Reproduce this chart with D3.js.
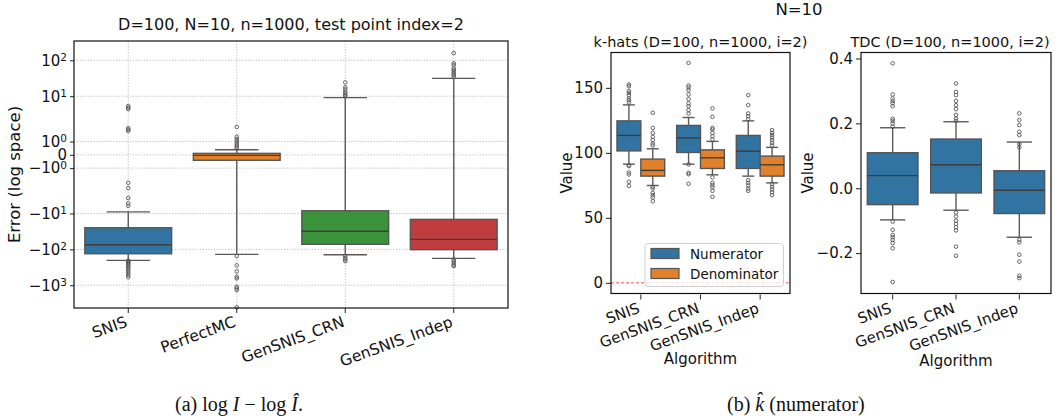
<!DOCTYPE html>
<html>
<head>
<meta charset="utf-8">
<script src="https://cdn.jsdelivr.net/npm/d3@7"></script>
<style>
  body { margin: 0; background: #fff; }
  svg { display: block; font-family: "DejaVu Sans", sans-serif; }
</style>
</head>
<body>
<script>
// Left panel: log-space error per algorithm, [whiskerLo, q1, median, q3, whiskerHi]
const errCats = ["SNIS", "PerfectMC", "GenSNIS_CRN", "GenSNIS_Indep"];
const errBoxes = [
  [-202, -132.5, -74.5, -25, -9],
  [-138, -0.41, -0.04, 0.11, 0.38],
  [-141, -72.3, -31.4, -8.4, 9.1],
  [-178, -102, -52.5, -14.6, 31.4]
];
const errOutliers = [
  [5.3, 4.8, 4.4, 2.0, 1.9, 1.8, -2.1, -2.5, -3.7, -5.2, -6.1, -205, -215, -226, -245, -262, -290, -320, -350, -400, -450, -520, -590],
  [2.1, 1.36, 1.19, 1.04, 0.87, 0.74, 0.61, 0.49, -154, -279, -410, -581, -644, -1100, -1220, -1360, -4130],
  [24.3, 17.7, 15.5, 13.3, 12, 10.8, 9.9, -154, -174, -192, -212],
  [159, 82.5, 74, 60, 53.5, 48, 43, 39, 35, -190, -212, -241, -274, -292]
];
const errTicks = [100, 10, 1, 0, -1, -10, -100, -1000];
const errTickBase = ["10", "10", "10", "0", "\u221210", "\u221210", "\u221210", "\u221210"];
const errTickExp = ["2", "1", "0", "", "0", "1", "2", "3"];
const errColors = ["#3274a1", "#e1812c", "#3a923a", "#c03d3e"];

// Middle panel: k-hats
const algos = ["SNIS", "GenSNIS_CRN", "GenSNIS_Indep"];
const kSeries = ["Numerator", "Denominator"];
const kColors = ["#3274a1", "#e1812c"];
const numBoxes = [
  [91.3, 101.5, 113.4, 124.6, 136.9],
  [91.3, 100.3, 111.5, 121.1, 127.2],
  [82.1, 88, 101.3, 113.4, 124.6]
];
const denBoxes = [
  [74.9, 82.1, 86.5, 95.2, 103.1],
  [83.1, 88, 96.2, 102.3, 108.8],
  [76.9, 82.1, 90.8, 97.5, 104.2]
];
const numOutliers = [
  [152.6, 151.3, 147.7, 146.2, 144.4, 141.8, 140.5, 138.8, 90.5, 89.8, 84.9, 83.4, 77.7, 74.6],
  [169.2, 151.8, 150.3, 148.2, 144.9, 141.3, 138, 135.9, 132.8, 130.3, 91.1, 84.6, 83.6, 76.2],
  [144.4, 136.7, 130.3, 128.2, 125.9, 79, 76.9, 74.9, 72.6, 70.8]
];
const denOutliers = [
  [130.8, 119.2, 115.4, 112.3, 109.8, 107.2, 105.7, 73.8, 72.6, 69.2, 67.5, 65.7, 62.8],
  [134.2, 127.7, 119.2, 118, 115.4, 112.8, 110.3, 81.1, 76.9, 75.2, 73.4, 70.8, 66.2],
  [117.5, 115.4, 113.6, 111.8, 109.8, 107.7, 105.7, 75.9, 73.8, 71.8, 69.8, 67.5]
];
const kTicks = [0, 50, 100, 150];

// Right panel: TDC
const tdcBoxes = [
  [-0.0975, -0.0505, 0.0388, 0.1095, 0.1865],
  [-0.0677, -0.0145, 0.0726, 0.1517, 0.205],
  [-0.151, -0.078, -0.006, 0.054, 0.1425]
];
const tdcOutliers = [
  [0.385, 0.289, 0.277, 0.269, 0.262, 0.253, 0.214, 0.208, 0.2, 0.19, -0.103, -0.128, -0.144, -0.151, -0.159, -0.169, -0.185, -0.289],
  [0.323, 0.297, 0.287, 0.269, 0.256, 0.244, 0.226, 0.215, 0.208, -0.075, -0.087, -0.1, -0.11, -0.12, -0.13, -0.18, -0.208],
  [0.231, 0.21, 0.195, 0.174, 0.164, 0.136, 0.126, -0.159, -0.167, -0.205, -0.226, -0.27, -0.277]
];
const tdcTicks = [-0.2, 0, 0.2, 0.4];

const W = 1060, H = 419;
const svg = d3.select("body").append("svg").attr("width", W).attr("height", H);

// matplotlib style symlog (base 10, linscale 1)
const linthresh = 3;
function symlog(v) {
  const adj = 1 / (1 - 1 / 10);
  const a = Math.abs(v);
  return a <= linthresh ? v * adj : Math.sign(v) * linthresh * (adj + Math.log10(a / linthresh));
}

// draw one box + whiskers + fliers
function drawBox(g, x0, w, s, y, color, fliers) {
  const cx = x0 + w / 2;
  g.append("line").attr("x1", cx).attr("x2", cx).attr("y1", y(s[0])).attr("y2", y(s[1]))
    .attr("stroke", "#5a5a5a").attr("stroke-width", 1.4);
  g.append("line").attr("x1", cx).attr("x2", cx).attr("y1", y(s[3])).attr("y2", y(s[4]))
    .attr("stroke", "#5a5a5a").attr("stroke-width", 1.4);
  [s[0], s[4]].forEach(v => {
    g.append("line").attr("x1", cx - w / 4).attr("x2", cx + w / 4).attr("y1", y(v)).attr("y2", y(v))
      .attr("stroke", "#5a5a5a").attr("stroke-width", 1.4);
  });
  g.append("rect").attr("x", x0).attr("width", w)
    .attr("y", y(s[3])).attr("height", Math.max(1, y(s[1]) - y(s[3])))
    .attr("fill", color).attr("stroke", "#555").attr("stroke-width", 1.4);
  g.append("line").attr("x1", x0).attr("x2", x0 + w).attr("y1", y(s[2])).attr("y2", y(s[2]))
    .attr("stroke", "#3d3d3d").attr("stroke-width", 1.4);
  g.selectAll(null).data(fliers).enter().append("circle")
    .attr("cx", cx).attr("cy", d => y(d)).attr("r", 1.8)
    .attr("fill", "none").attr("stroke", "#555").attr("stroke-width", 0.9);
}

function xLabels(g, x, cats, yBase, size) {
  g.selectAll(null).data(cats).enter().append("text")
    .attr("transform", d => `translate(${x(d) + x.bandwidth() / 2 - 4},${yBase}) rotate(-20)`)
    .attr("text-anchor", "end").attr("dy", "0.76em")
    .attr("font-size", size).attr("fill", "#111").text(d => d);
  g.selectAll(null).data(cats).enter().append("line")
    .attr("x1", d => x(d) + x.bandwidth() / 2).attr("x2", d => x(d) + x.bandwidth() / 2)
    .attr("y1", yBase - 7).attr("y2", yBase - 2)
    .attr("stroke", "#222").attr("stroke-width", 1);
}

// ---------- Left panel ----------
{
  const L = 74, R = 508, T = 41, B = 308;
  const g = svg.append("g");
  const x = d3.scaleBand().domain(errCats).range([L, R]);
  const yLin = d3.scaleLinear().domain([symlog(-4300), symlog(345)]).range([B, T]);
  const y = v => yLin(symlog(v));

  // grid
  g.selectAll(null).data(errTicks).enter().append("line")
    .attr("x1", L).attr("x2", R).attr("y1", d => y(d)).attr("y2", d => y(d))
    .attr("stroke", "#b0b0b0").attr("stroke-width", 0.8).attr("stroke-dasharray", "1.2,1.6");
  g.selectAll(null).data(errCats).enter().append("line")
    .attr("x1", d => x(d) + x.bandwidth() / 2).attr("x2", d => x(d) + x.bandwidth() / 2)
    .attr("y1", T).attr("y2", B)
    .attr("stroke", "#b0b0b0").attr("stroke-width", 0.8).attr("stroke-dasharray", "1.2,1.6");

  errCats.forEach((c, i) => {
    const w = x.bandwidth() * 0.8;
    drawBox(g, x(c) + x.bandwidth() * 0.1, w, errBoxes[i], y, errColors[i], errOutliers[i]);
  });

  // y axis
  const ax = g.append("g").attr("transform", `translate(${L},0)`)
    .call(d3.axisLeft(yLin).tickValues(errTicks.map(symlog)).tickSize(4).tickPadding(3).tickFormat(() => ""));
  ax.select(".domain").remove();
  ax.selectAll(".tick line").attr("stroke", "#222");
  ax.selectAll(".tick text").each(function (d, i) {
    const t = d3.select(this).attr("font-size", 15).attr("font-family", "DejaVu Sans").attr("fill", "#111");
    t.append("tspan").text(errTickBase[i]);
    if (errTickExp[i]) t.append("tspan").attr("dy", "-0.45em").attr("font-size", 10.5).text(errTickExp[i]);
  });

  g.append("rect").attr("x", L).attr("y", T).attr("width", R - L).attr("height", B - T)
    .attr("fill", "none").attr("stroke", "#111").attr("stroke-width", 1.2);

  xLabels(g, x, errCats, B + 7, 15.5);

  g.append("text").attr("transform", `translate(20,${(T + B) / 2}) rotate(-90)`)
    .attr("text-anchor", "middle").attr("font-size", 16.5).attr("fill", "#111").text("Error (log space)");
  g.append("text").attr("x", (L + R) / 2).attr("y", 30).attr("text-anchor", "middle")
    .attr("font-size", 16).attr("fill", "#111").text("D=100, N=10, n=1000, test point index=2");
}

// ---------- Middle panel ----------
{
  const L = 611, R = 790, T = 52.5, B = 293.5;
  const g = svg.append("g");
  const x = d3.scaleBand().domain(algos).range([L, R]);
  const y = d3.scaleLinear().domain([-8.2, 177.2]).range([B, T]);
  const hue = d3.scaleBand().domain(kSeries).range([0, x.bandwidth() * 0.8]);

  g.append("line").attr("x1", L).attr("x2", R).attr("y1", y(0)).attr("y2", y(0))
    .attr("stroke", "red").attr("stroke-opacity", 0.7).attr("stroke-width", 1)
    .attr("stroke-dasharray", "3,2");

  algos.forEach((a, i) => {
    const x0 = x(a) + x.bandwidth() * 0.1;
    drawBox(g, x0 + hue("Numerator"), hue.bandwidth(), numBoxes[i], y, kColors[0], numOutliers[i]);
    drawBox(g, x0 + hue("Denominator"), hue.bandwidth(), denBoxes[i], y, kColors[1], denOutliers[i]);
  });

  const ax = g.append("g").attr("transform", `translate(${L},0)`)
    .call(d3.axisLeft(y).tickValues(kTicks).tickSize(5).tickPadding(3).tickFormat(d3.format("d")));
  ax.select(".domain").remove();
  ax.selectAll(".tick line").attr("stroke", "#222");
  ax.selectAll(".tick text").attr("font-size", 15).attr("font-family", "DejaVu Sans").attr("fill", "#111");

  g.append("rect").attr("x", L).attr("y", T).attr("width", R - L).attr("height", B - T)
    .attr("fill", "none").attr("stroke", "#111").attr("stroke-width", 1.2);

  xLabels(g, x, algos, B + 8, 15);

  // legend
  const lg = g.append("g");
  lg.append("rect").attr("x", 645).attr("y", 243.5).attr("width", 138.5).attr("height", 43)
    .attr("rx", 3).attr("fill", "#fff").attr("fill-opacity", 0.8).attr("stroke", "#d0d0d0");
  kSeries.forEach((s, i) => {
    lg.append("rect").attr("x", 651).attr("y", 248.5 + i * 20).attr("width", 28).attr("height", 10)
      .attr("fill", kColors[i]).attr("stroke", "#555").attr("stroke-width", 1.2);
    lg.append("text").attr("x", 690).attr("y", 259 + i * 19.5).attr("font-size", 13.5)
      .attr("fill", "#111").text(s);
  });

  g.append("text").attr("transform", `translate(571.5,${(T + B) / 2}) rotate(-90)`)
    .attr("text-anchor", "middle").attr("font-size", 15).attr("fill", "#111").text("Value");
  g.append("text").attr("x", (L + R) / 2).attr("y", 364).attr("text-anchor", "middle")
    .attr("font-size", 15).attr("fill", "#111").text("Algorithm");
  g.append("text").attr("x", (L + R) / 2).attr("y", 47).attr("text-anchor", "middle")
    .attr("font-size", 14.5).attr("fill", "#111").text("k-hats (D=100, n=1000, i=2)");
}

// ---------- Right panel ----------
{
  const L = 861, R = 1051, T = 52.5, B = 293.5;
  const g = svg.append("g");
  const x = d3.scaleBand().domain(algos).range([L, R]);
  const y = d3.scaleLinear().domain([-0.3245, 0.4185]).range([B, T]);

  algos.forEach((a, i) => {
    drawBox(g, x(a) + x.bandwidth() * 0.1, x.bandwidth() * 0.8, tdcBoxes[i], y, kColors[0], tdcOutliers[i]);
  });

  const ax = g.append("g").attr("transform", `translate(${L},0)`)
    .call(d3.axisLeft(y).tickValues(tdcTicks).tickSize(5).tickPadding(3).tickFormat(d3.format(".1f")));
  ax.select(".domain").remove();
  ax.selectAll(".tick line").attr("stroke", "#222");
  ax.selectAll(".tick text").attr("font-size", 15).attr("font-family", "DejaVu Sans").attr("fill", "#111");

  g.append("rect").attr("x", L).attr("y", T).attr("width", R - L).attr("height", B - T)
    .attr("fill", "none").attr("stroke", "#111").attr("stroke-width", 1.2);

  xLabels(g, x, algos, B + 8, 15);

  g.append("text").attr("transform", `translate(813,${(T + B) / 2}) rotate(-90)`)
    .attr("text-anchor", "middle").attr("font-size", 15).attr("fill", "#111").text("Value");
  g.append("text").attr("x", (L + R) / 2).attr("y", 366).attr("text-anchor", "middle")
    .attr("font-size", 15).attr("fill", "#111").text("Algorithm");
  g.append("text").attr("x", 950).attr("y", 47).attr("text-anchor", "middle")
    .attr("font-size", 14.5).attr("fill", "#111").text("TDC (D=100, n=1000, i=2)");
}

// suptitle and captions
svg.append("text").attr("x", 799).attr("y", 15).attr("text-anchor", "middle")
  .attr("font-size", 16.5).attr("fill", "#111").text("N=10");

const capA = svg.append("text").attr("x", 175).attr("y", 411)
  .attr("font-family", "Liberation Serif, serif").attr("font-size", 20).attr("fill", "#111");
capA.append("tspan").text("(a) log ");
capA.append("tspan").attr("font-style", "italic").text("I");
capA.append("tspan").text(" \u2212 log ");
capA.append("tspan").attr("font-style", "italic").text("\u00ce");
capA.append("tspan").text(".");

const capB = svg.append("text").attr("x", 727).attr("y", 411)
  .attr("font-family", "Liberation Serif, serif").attr("font-size", 20).attr("fill", "#111");
capB.append("tspan").text("(b) ");
capB.append("tspan").attr("font-style", "italic").text("k\u0302");
capB.append("tspan").text(" (numerator)");
</script>
</body>
</html>
